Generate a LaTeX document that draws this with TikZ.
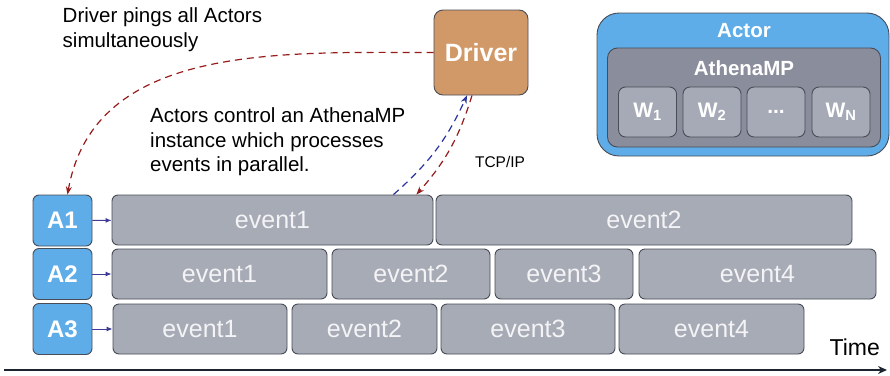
\documentclass[tikz,border=0pt]{standalone}
\usepackage{fontspec}
\setmainfont{Liberation Sans}
\usetikzlibrary{arrows.meta}

\definecolor{actorblue}{RGB}{94,172,232}
\definecolor{athenagray}{RGB}{138,142,156}
\definecolor{workergray}{RGB}{166,170,182}
\definecolor{eventgray}{RGB}{167,171,182}
\definecolor{eventtext}{RGB}{244,244,246}
\definecolor{drivertan}{RGB}{210,153,104}
\definecolor{boxline}{RGB}{72,76,86}
\definecolor{pingred}{RGB}{150,28,28}
\definecolor{tcpblue}{RGB}{40,52,160}
\definecolor{feedblue}{RGB}{62,58,150}
\definecolor{axisdark}{RGB}{28,36,48}

\begin{document}
\begin{tikzpicture}[x=1pt, y=-1pt]
    \useasboundingbox (0,0) rectangle (890,375);

    \tikzset{BoxStyle/.style={draw=boxline, line width=0.9pt, rounded corners=6pt, inner sep=0pt}}
    \tikzset{EventStyle/.style={BoxStyle, fill=eventgray, text=eventtext, minimum height=50pt,
        font=\fontsize{25}{25}\selectfont}}
    \tikzset{ActorStyle/.style={BoxStyle, fill=actorblue, text=white, minimum width=59pt,
        minimum height=51pt, font=\fontsize{24}{24}\selectfont\bfseries}}
    \tikzset{WorkerStyle/.style={BoxStyle, rounded corners=7pt, fill=workergray, text=white,
        minimum width=58pt, minimum height=50pt, font=\fontsize{21}{21}\selectfont\bfseries}}
    \tikzset{NoteStyle/.style={inner sep=0pt, align=left, font=\fontsize{20.5}{24.5}\selectfont}}
    \tikzset{TitleStyle/.style={text=white, inner sep=0pt, font=\fontsize{20.5}{20.5}\selectfont\bfseries}}

    % actor legend
    \node[BoxStyle, rounded corners=22pt, fill=actorblue, minimum width=292pt, minimum height=143pt] (actor) at (743,84.5) {};
    \node[TitleStyle] (actorlbl) at (744,31) {Actor};
    \node[BoxStyle, rounded corners=10pt, fill=athenagray, minimum width=273pt, minimum height=99pt] (athena) at (744,97.5) {};
    \node[TitleStyle] (athenalbl) at (744,68) {AthenaMP};
    \node[WorkerStyle] (w1) at (647.5,112) {W\textsubscript{1}};
    \node[WorkerStyle] (w2) at (712,112) {W\textsubscript{2}};
    \node[WorkerStyle] (wdots) at (776,112) {...};
    \node[WorkerStyle] (wn) at (841,112) {W\textsubscript{N}};

    \node[BoxStyle, rounded corners=9pt, fill=drivertan, text=white, minimum width=94pt, minimum height=85pt,
        font=\fontsize{25}{25}\selectfont\bfseries] (drv) at (481,52.5) {Driver};

    \node[NoteStyle, anchor=north west] (ping) at (62.5,7.5) {Driver pings all Actors\\simultaneously};
    \node[NoteStyle, anchor=north west] (ctrl) at (150,107.5) {Actors control an AthenaMP\\instance which processes\\events in parallel.};
    \node[font=\fontsize{15.5}{15.5}\selectfont, inner sep=0pt] (tcp) at (500,162) {TCP/IP};

    \node[ActorStyle] (A1) at (62.5,220.5) {A1};
    \node[ActorStyle] (A2) at (62.5,274) {A2};
    \node[ActorStyle] (A3) at (62.5,329) {A3};

    \node[EventStyle, minimum width=321pt] (e11) at (272.5,220) {event1};
    \node[EventStyle, minimum width=416pt] (e12) at (644,220) {event2};

    \node[EventStyle, minimum width=215pt] (e21) at (219.5,274) {event1};
    \node[EventStyle, minimum width=158pt] (e22) at (411,274) {event2};
    \node[EventStyle, minimum width=138pt] (e23) at (564,274) {event3};
    \node[EventStyle, minimum width=237pt] (e24) at (757.5,274) {event4};

    \node[EventStyle, minimum width=174pt] (e31) at (200,329) {event1};
    \node[EventStyle, minimum width=145pt] (e32) at (364.5,329) {event2};
    \node[EventStyle, minimum width=174pt] (e33) at (528,329) {event3};
    \node[EventStyle, minimum width=185pt] (e34) at (711.5,329) {event4};

    \tikzset{FeedStyle/.style={draw=feedblue, line width=1pt, -{Latex[length=6pt, width=5pt]}}}
    \draw[FeedStyle] (A1) -- (e11);
    \draw[FeedStyle] (A2) -- (e21);
    \draw[FeedStyle] (A3) -- (e31);

    \tikzset{PingStyle/.style={line width=1.2pt, dash pattern=on 7pt off 5pt, -{Stealth[length=8pt, width=6pt]}}}
    \draw[PingStyle, draw=pingred] (drv.west) to[out=180, in=80] ([xshift=5pt]A1.north);
    \draw[PingStyle, draw=tcpblue] ([xshift=-40pt]e11.north east) to[bend right=12] ([xshift=-14pt]drv.south);
    \draw[PingStyle, draw=pingred] ([xshift=-9pt]drv.south) to[bend left=12] ([xshift=-17pt]e11.north east);

    % time axis
    \coordinate (t0) at (4,370);
    \coordinate (t1) at (887,370);
    \node[font=\fontsize{23}{23}\selectfont, anchor=base east, inner sep=0pt] (time) at (880,355) {Time};
    \draw[draw=axisdark, line width=2pt, -{Stealth[length=9pt, width=8pt]}] (t0) -- (t1);
\end{tikzpicture}
\end{document}
